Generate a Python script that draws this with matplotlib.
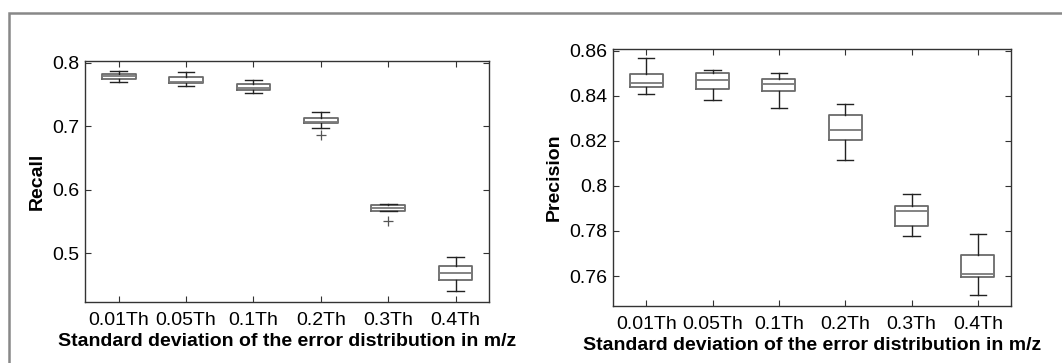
import matplotlib
matplotlib.use("Agg")
import matplotlib.pyplot as plt
from matplotlib.patches import Rectangle

plt.rcParams['font.family'] = ['Liberation Sans', 'DejaVu Sans']

categories = ["0.01Th", "0.05Th", "0.1Th", "0.2Th", "0.3Th", "0.4Th"]

# Recall box statistics per noise level
recall_whislo = [0.770, 0.764, 0.752, 0.697, 0.5665, 0.441]
recall_q1 = [0.7745, 0.768, 0.7565, 0.7045, 0.5665, 0.4583]
recall_med = [0.7785, 0.769, 0.7606, 0.7066, 0.5707, 0.4683]
recall_q3 = [0.782, 0.777, 0.766, 0.713, 0.5764, 0.4794]
recall_whishi = [0.787, 0.785, 0.772, 0.722, 0.577, 0.494]
recall_fliers = [[], [], [], [0.686], [0.5507], []]

# Precision box statistics per noise level
precision_whislo = [0.8407, 0.8382, 0.8345, 0.8114, 0.7777, 0.7517]
precision_q1 = [0.8440, 0.8428, 0.8419, 0.8203, 0.7823, 0.7596]
precision_med = [0.8456, 0.8468, 0.8453, 0.8247, 0.7888, 0.7609]
precision_q3 = [0.8497, 0.8502, 0.8475, 0.8314, 0.7912, 0.7692]
precision_whishi = [0.8565, 0.8512, 0.8500, 0.8364, 0.7962, 0.7786]
precision_fliers = [[], [], [], [], [], []]

W, H = 1062, 363
fig = plt.figure(figsize=(W / 100, H / 100), dpi=100)

# gray frame around the panel
fig.patches.append(Rectangle((9 / W, -0.1), 1.2, 1 - 13 / H + 0.1,
                             transform=fig.transFigure, fill=False,
                             edgecolor='#888888', linewidth=1.8))


def make_stats(lo, q1, med, q3, hi, fl):
    return [dict(whislo=a, q1=b, med=c, q3=d, whishi=e, fliers=f)
            for a, b, c, d, e, f in zip(lo, q1, med, q3, hi, fl)]


def draw(rect, stats, ylim, yticks, ylabel):
    x0, y0, x1, y1 = rect
    ax = fig.add_axes([x0 / W, 1 - y1 / H, (x1 - x0) / W, (y1 - y0) / H])
    ax.bxp(stats, positions=range(1, 7), widths=0.5, showfliers=True,
           boxprops=dict(color='#6a6a6a', linewidth=1.3),
           medianprops=dict(color='#7a7a7a', linewidth=1.3),
           whiskerprops=dict(color='#222222', linewidth=1.0, linestyle='-'),
           capprops=dict(color='#222222', linewidth=1.0),
           flierprops=dict(marker='+', markeredgecolor='#555555',
                           markersize=7, markeredgewidth=0.9))
    ax.set_xlim(0.5, 6.5)
    ax.set_ylim(*ylim)
    ax.set_xticks(range(1, 7))
    ax.set_xticklabels(categories)
    ax.set_yticks(yticks)
    ax.set_yticklabels([f"{t:g}" for t in yticks])
    ax.tick_params(direction='in', length=4, width=0.8, top=True, right=True,
                   labelsize=14, colors='#333333', labelcolor='black', pad=4)
    ax.tick_params(axis='x', pad=7)
    for s in ax.spines.values():
        s.set_color('#333333')
        s.set_linewidth(1.0)
    ax.set_xlabel("Standard deviation of the error distribution in m/z",
                  fontsize=14, fontweight='bold', labelpad=3)
    ax.set_ylabel(ylabel, fontsize=14, fontweight='bold', labelpad=5)
    return ax


draw((85, 61, 489.3, 302),
     make_stats(recall_whislo, recall_q1, recall_med, recall_q3,
                recall_whishi, recall_fliers),
     (0.423, 0.8027), [0.5, 0.6, 0.7, 0.8], "Recall")

draw((613, 49, 1011, 306),
     make_stats(precision_whislo, precision_q1, precision_med, precision_q3,
                precision_whishi, precision_fliers),
     (0.7467, 0.8607), [0.76, 0.78, 0.80, 0.82, 0.84, 0.86], "Precision")

fig.savefig("out.png", dpi=100)
